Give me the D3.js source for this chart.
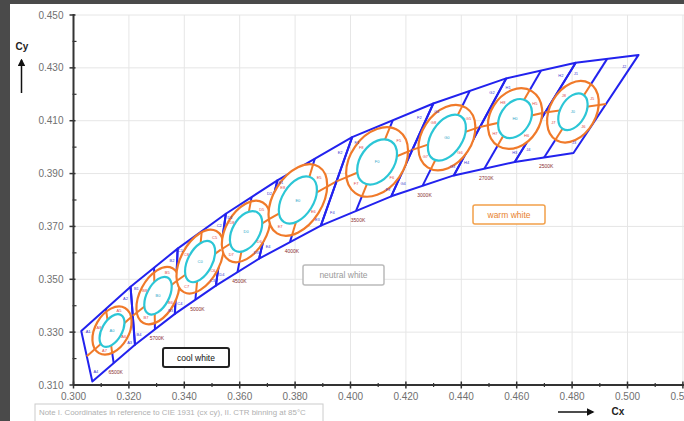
<!DOCTYPE html>
<html>
<head>
<meta charset="utf-8">
<script src="https://cdn.jsdelivr.net/npm/d3@7"></script>
<style>
  html, body { margin: 0; padding: 0; background: #4a4a4a; }
  svg { display: block; }
  text { font-family: "Liberation Sans", Arial, sans-serif; }
</style>
</head>
<body>
<svg width="684" height="421"></svg>
<script>
/* ===============================
   Data
   =============================== */
let xTicks = [0.300, 0.320, 0.340, 0.360, 0.380, 0.400, 0.420, 0.440, 0.460, 0.480, 0.500, 0.520];
let xMinor = [0.310, 0.330, 0.350, 0.370, 0.390, 0.410, 0.430, 0.450, 0.470, 0.490, 0.510];
let yTicks = [0.310, 0.330, 0.350, 0.370, 0.390, 0.410, 0.430, 0.450];
let yMinor = [0.320, 0.340, 0.360, 0.380, 0.400, 0.420, 0.440];

let cctNames = ["6500K", "5700K", "5000K", "4500K", "4000K", "3500K", "3000K", "2700K", "2500K"];
let binCodes = ["A", "B", "C", "D", "E", "F", "G", "H", "J"];

// bin borders: upper and lower end of each cross line (cx, cy)
let upperEdge = [[0.3028, 0.3304], [0.3206, 0.3472], [0.3376, 0.3616], [0.3550, 0.3748], [0.3736, 0.3874],
                 [0.4006, 0.4038], [0.4299, 0.4165], [0.4562, 0.4260], [0.4813, 0.4319], [0.5040, 0.4349]];
let lowerEdge = [[0.3068, 0.3113], [0.3222, 0.3252], [0.3366, 0.3369], [0.3514, 0.3476], [0.3670, 0.3578],
                 [0.3893, 0.3703], [0.4147, 0.3814], [0.4373, 0.3893], [0.4593, 0.3944], [0.4805, 0.3978]];

// ellipse centres and semi axes
let ellCenter = [[0.3139, 0.3306], [0.3305, 0.3438], [0.3457, 0.3567], [0.3623, 0.3681], [0.3810, 0.3800],
                 [0.4096, 0.3944], [0.4348, 0.4036], [0.4594, 0.4108], [0.4803, 0.4134]];
let orangeA = [0.0094, 0.0112, 0.0125, 0.0121, 0.0142, 0.0137, 0.0128, 0.0116, 0.0119];
let orangeB = [0.0061, 0.0065, 0.0070, 0.0073, 0.0088, 0.0097, 0.0090, 0.0090, 0.0083];
let cyanA = [0.0065, 0.0074, 0.0081, 0.0080, 0.0094, 0.0090, 0.0092, 0.0076, 0.0072];
let cyanB = [0.0036, 0.0040, 0.0044, 0.0049, 0.0056, 0.0061, 0.0056, 0.0054, 0.0045];
let ellAngle = [60, 62, 62, 60, 58, 55, 57, 58, 60];

/* ===============================
   Select SVG, scales
   =============================== */
let svg = d3.select("svg");

let x = d3.scaleLinear().domain([0.30, 0.52]).range([73.5, 682.9]);
let y = d3.scaleLinear().domain([0.31, 0.45]).range([385, 15]);
let k = x(1.3) - x(0.3);

let blue = "#2222ee";
let orange = "#f07a2a";
let cyan = "#2cc6d6";

/* ===============================
   Background + grid
   =============================== */
svg.append("rect")
    .attr("x", 10).attr("y", 4)
    .attr("width", 674).attr("height", 417)
    .attr("fill", "#ffffff");

svg.append("g").selectAll("line").data(xTicks.slice(1)).join("line")
    .attr("x1", d => x(d)).attr("x2", d => x(d))
    .attr("y1", y(0.45)).attr("y2", y(0.31))
    .attr("stroke", "#e6e6e6");

svg.append("g").selectAll("line").data(yTicks.slice(1)).join("line")
    .attr("x1", x(0.30)).attr("x2", 684)
    .attr("y1", d => y(d)).attr("y2", d => y(d))
    .attr("stroke", "#e6e6e6");

/* ===============================
   Bins
   =============================== */
let mid = (a, b) => [(a[0] + b[0]) / 2, (a[1] + b[1]) / 2];
let px = p => [x(p[0]), y(p[1])];

let bins = cctNames.map((name, i) => {
    let tl = px(upperEdge[i]), tr = px(upperEdge[i + 1]);
    let br = px(lowerEdge[i + 1]), bl = px(lowerEdge[i]);
    return {
        i, name, tl, tr, br, bl,
        mT: mid(tl, tr), mR: mid(tr, br), mB: mid(br, bl), mL: mid(bl, tl),
        c: px(ellCenter[i])
    };
});

let defs = svg.append("defs");
let gBins = svg.append("g");

bins.forEach(b => {
    gBins.append("polygon")
        .attr("points", [b.tl, b.tr, b.br, b.bl].map(p => p.join(",")).join(" "))
        .attr("fill", "none")
        .attr("stroke", blue)
        .attr("stroke-width", 2)
        .attr("stroke-linejoin", "round");
    gBins.append("line")
        .attr("x1", b.mT[0]).attr("y1", b.mT[1])
        .attr("x2", b.mB[0]).attr("y2", b.mB[1])
        .attr("stroke", blue).attr("stroke-width", 2);
    gBins.append("line")
        .attr("x1", b.mL[0]).attr("y1", b.mL[1])
        .attr("x2", b.mR[0]).attr("y2", b.mR[1])
        .attr("stroke", orange).attr("stroke-width", 2);
});

/* ===============================
   Ellipses
   =============================== */
function ellipseAt(g, b, a, bb, stroke) {
    return g.append("ellipse")
        .attr("transform", `translate(${b.c[0]},${b.c[1]}) rotate(${-ellAngle[b.i]})`)
        .attr("rx", a * k).attr("ry", bb * k)
        .attr("fill", "#ffffff")
        .attr("stroke", stroke)
        .attr("stroke-width", 2.2);
}

// distance from centre to an ellipse boundary along a direction
function radiusAt(dir, a, bb, ang) {
    let t = ang * Math.PI / 180;
    let p = dir[0] * Math.cos(t) - dir[1] * Math.sin(t);
    let q = dir[0] * Math.sin(t) + dir[1] * Math.cos(t);
    return 1 / Math.sqrt(p * p / (a * a) + q * q / (bb * bb));
}

let gEll = svg.append("g");

bins.forEach(b => {
    let i = b.i;
    ellipseAt(gEll, b, orangeA[i], orangeB[i], orange);

    defs.append("clipPath").attr("id", "clip" + i)
        .append("ellipse")
        .attr("transform", `translate(${b.c[0]},${b.c[1]}) rotate(${-ellAngle[i]})`)
        .attr("rx", orangeA[i] * k).attr("ry", orangeB[i] * k);

    let cg = gEll.append("g").attr("clip-path", `url(#clip${i})`);
    cg.append("line")
        .attr("x1", b.mT[0]).attr("y1", b.mT[1])
        .attr("x2", b.mB[0]).attr("y2", b.mB[1])
        .attr("stroke", orange).attr("stroke-width", 2);
    cg.append("line")
        .attr("x1", b.mL[0]).attr("y1", b.mL[1])
        .attr("x2", b.mR[0]).attr("y2", b.mR[1])
        .attr("stroke", orange).attr("stroke-width", 2);

    ellipseAt(gEll, b, cyanA[i], cyanB[i], cyan);
});

/* ===============================
   Small bin labels
   =============================== */
let gLab = svg.append("g")
    .attr("text-anchor", "middle")
    .attr("dominant-baseline", "central")
    .attr("font-size", 4);

function hits(a, b) {
    return a.x < b.x + b.width && b.x < a.x + a.width && a.y < b.y + b.height && b.y < a.y + a.height;
}

bins.forEach(b => {
    let code = binCodes[b.i];

    // ring codes between the cross lines
    let dirs = [b.mT, b.mR, b.mB, b.mL].map(m => {
        let dx = m[0] - b.c[0], dy = m[1] - b.c[1], n = Math.hypot(dx, dy);
        return [dx / n, dy / n];
    });
    let ringBoxes = [];
    for (let j = 0; j < 4; j++) {
        let d1 = dirs[j], d2 = dirs[(j + 1) % 4];
        let sx = d1[0] + d2[0], sy = d1[1] + d2[1], n = Math.hypot(sx, sy);
        let d = [sx / n, sy / n];
        let ro = radiusAt(d, orangeA[b.i] * k, orangeB[b.i] * k, ellAngle[b.i]);
        let rc = radiusAt(d, cyanA[b.i] * k, cyanB[b.i] * k, ellAngle[b.i]);
        let r = rc + 0.45 * (ro - rc);
        let t = gLab.append("text")
            .attr("x", b.c[0] + d[0] * r)
            .attr("y", b.c[1] + d[1] * r)
            .attr("fill", "#e04848")
            .text(code + (j + 5));
        ringBoxes.push(t.node().getBBox());
    }

    // sub-bin codes near the outer corners, pushed out if they meet a ring code
    let corners = [[b.tl, b.mT, b.mL], [b.tr, b.mT, b.mR], [b.br, b.mR, b.mB], [b.bl, b.mB, b.mL]];
    corners.forEach((c, j) => {
        let gx = (c[0][0] + c[1][0] + c[2][0]) / 3, gy = (c[0][1] + c[1][1] + c[2][1]) / 3;
        let t = gLab.append("text")
            .attr("fill", "#3b3bd0")
            .text(code + (j + 1));
        for (let f = 0.68; f >= 0.3; f -= 0.04) {
            t.attr("x", c[0][0] + f * (gx - c[0][0]))
             .attr("y", c[0][1] + f * (gy - c[0][1]));
            let bb = t.node().getBBox();
            if (!ringBoxes.some(rb => hits(bb, rb))) break;
        }
    });

    gLab.append("text")
        .attr("x", b.c[0]).attr("y", b.c[1])
        .attr("fill", "#2aa6c8")
        .text(code + "0");

    // CCT name under the bin
    gLab.append("text")
        .attr("x", b.mB[0] + 2).attr("y", b.mB[1] + 9)
        .attr("font-size", 5)
        .attr("fill", "#8a3030")
        .text(b.name);
});

/* ===============================
   Axes
   =============================== */
let axisColor = "#333333";
let tickFont = 10;

svg.append("line")
    .attr("x1", x(0.30)).attr("x2", 684)
    .attr("y1", y(0.31)).attr("y2", y(0.31))
    .attr("stroke", axisColor).attr("stroke-width", 2);

svg.append("line")
    .attr("x1", x(0.30)).attr("x2", x(0.30))
    .attr("y1", y(0.45) - 1).attr("y2", y(0.31))
    .attr("stroke", axisColor).attr("stroke-width", 2);

svg.append("g").selectAll("line").data(xTicks).join("line")
    .attr("x1", d => x(d)).attr("x2", d => x(d))
    .attr("y1", y(0.31) - 3.5).attr("y2", y(0.31) + 3.5)
    .attr("stroke", axisColor).attr("stroke-width", 1.5);
svg.append("g").selectAll("line").data(xMinor).join("line")
    .attr("x1", d => x(d)).attr("x2", d => x(d))
    .attr("y1", y(0.31) - 2).attr("y2", y(0.31) + 2)
    .attr("stroke", axisColor).attr("stroke-width", 1.2);

svg.append("g").selectAll("line").data(yTicks).join("line")
    .attr("x1", x(0.30) - 4).attr("x2", x(0.30) + 2)
    .attr("y1", d => y(d)).attr("y2", d => y(d))
    .attr("stroke", axisColor).attr("stroke-width", 1.5);
svg.append("g").selectAll("line").data(yMinor).join("line")
    .attr("x1", x(0.30) - 1).attr("x2", x(0.30) + 3)
    .attr("y1", d => y(d)).attr("y2", d => y(d))
    .attr("stroke", axisColor).attr("stroke-width", 1.2);

let fmt = d3.format(".3f");

svg.append("g").selectAll("text").data(xTicks).join("text")
    .attr("x", d => x(d))
    .attr("y", y(0.31) + 15)
    .attr("text-anchor", "middle")
    .attr("font-size", tickFont)
    .attr("fill", "#707070")
    .text(fmt);

svg.append("g").selectAll("text").data(yTicks).join("text")
    .attr("x", x(0.30) - 10)
    .attr("y", d => y(d) + 3.5)
    .attr("text-anchor", "end")
    .attr("font-size", tickFont)
    .attr("fill", "#707070")
    .text(fmt);

/* ===============================
   Axis names with arrows
   =============================== */
defs.append("marker")
    .attr("id", "arrow")
    .attr("viewBox", "0 0 10 10")
    .attr("refX", 8).attr("refY", 5)
    .attr("markerWidth", 5).attr("markerHeight", 5)
    .attr("orient", "auto")
    .append("path")
    .attr("d", "M0,0 L10,5 L0,10 z")
    .attr("fill", "#111");

svg.append("line")
    .attr("x1", 21.5).attr("y1", 93)
    .attr("x2", 21.5).attr("y2", 60)
    .attr("stroke", "#111").attr("stroke-width", 1.5)
    .attr("marker-end", "url(#arrow)");

svg.append("text")
    .attr("x", 22).attr("y", 50)
    .attr("text-anchor", "middle")
    .attr("font-size", 10).attr("font-weight", "bold")
    .attr("fill", "#222")
    .text("Cy");

svg.append("line")
    .attr("x1", 558).attr("y1", 412)
    .attr("x2", 593).attr("y2", 412)
    .attr("stroke", "#111").attr("stroke-width", 1.5)
    .attr("marker-end", "url(#arrow)");

svg.append("text")
    .attr("x", 618).attr("y", 415)
    .attr("text-anchor", "middle")
    .attr("font-size", 10).attr("font-weight", "bold")
    .attr("fill", "#222")
    .text("Cx");

/* ===============================
   Region boxes
   =============================== */
function tag(x0, y0, w, h, stroke, sw, color, label) {
    svg.append("rect")
        .attr("x", x0).attr("y", y0)
        .attr("width", w).attr("height", h)
        .attr("rx", 2)
        .attr("fill", "#ffffff")
        .attr("stroke", stroke).attr("stroke-width", sw);
    svg.append("text")
        .attr("x", x0 + w / 2).attr("y", y0 + h / 2 + 3)
        .attr("text-anchor", "middle")
        .attr("font-size", 8.5)
        .attr("fill", color)
        .text(label);
}

tag(163, 348, 66, 19, "#222222", 2, "#111111", "cool white");
tag(303, 265, 81, 20, "#bbbbbb", 1.5, "#9a9a9a", "neutral white");
tag(473, 205, 72, 19, "#f2a04a", 1.5, "#e8822a", "warm white");

/* ===============================
   Note
   =============================== */
svg.append("rect")
    .attr("x", 35).attr("y", 404)
    .attr("width", 288).attr("height", 20)
    .attr("fill", "#ffffff")
    .attr("stroke", "#cccccc");

svg.append("text")
    .attr("x", 39).attr("y", 415)
    .attr("font-size", 7.9)
    .attr("fill", "#b0b0b0")
    .text("Note I. Coordinates in reference to CIE 1931 (cx cy), II. CTR binning at 85°C");
</script>
</body>
</html>
